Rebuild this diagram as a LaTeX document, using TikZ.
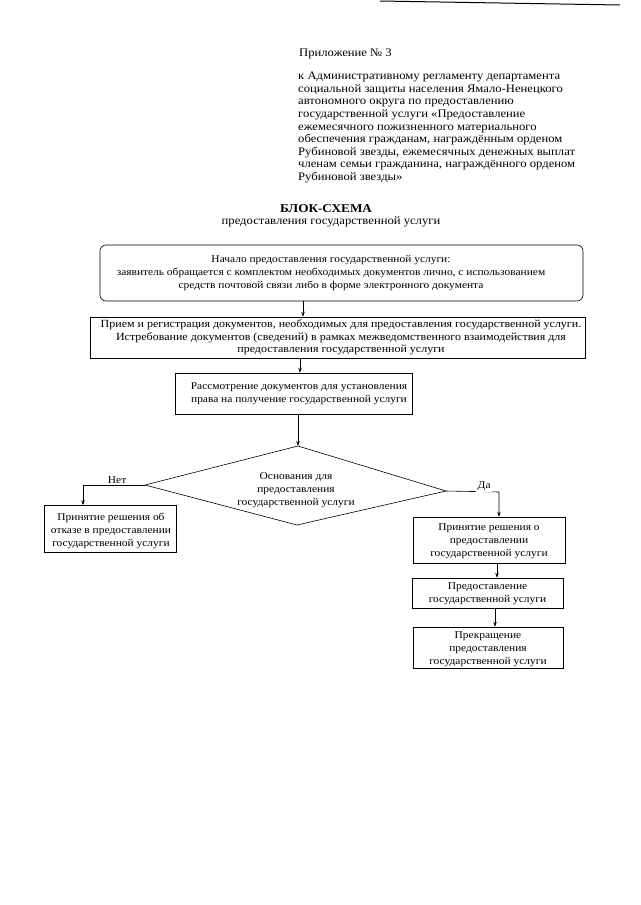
\documentclass[tikz,border=0pt]{standalone}
\usepackage{fontspec}
\setmainfont[FakeStretch=1.1]{Liberation Serif}
\usetikzlibrary{arrows.meta,calc}
\begin{document}
\begin{tikzpicture}[x=1pt,y=-1pt,
  box/.style={draw,line width=0.6pt,inner sep=0pt},
  txt/.style={align=center,inner sep=0pt,font=\fontsize{10.4}{13}\selectfont},
  arr/.style={line width=0.6pt,-{Stealth[length=5pt,width=3.5pt]}},
  lnk/.style={line width=0.6pt},
  lbl/.style={fill=white,inner sep=1.5pt,font=\fontsize{10.4}{11}\selectfont}]
\useasboundingbox (0,0) rectangle (640,905);
% scan edge
\draw[line width=1pt] (380,1) -- (620,5);
% header
\node[anchor=north west,inner sep=0pt,font=\fontsize{11.5}{12.5}\selectfont] (hdr) at (299,49) {Приложение № 3};
\node[anchor=north west,inner sep=0pt,align=left,font=\fontsize{11.5}{12.6}\selectfont] (par) at (298,72)
 {к Административному регламенту департамента\\
 социальной защиты населения Ямало-Ненецкого\\
 автономного округа по предоставлению\\
 государственной услуги «Предоставление\\
 ежемесячного пожизненного материального\\
 обеспечения гражданам, награждённым орденом\\
 Рубиновой звезды, ежемесячных денежных выплат\\
 членам семьи гражданина, награждённого орденом\\
 Рубиновой звезды»};
\node[inner sep=0pt,font=\fontsize{12}{13}\selectfont\bfseries] (title) at (326,209) {БЛОК-СХЕМА};
\node[inner sep=0pt,font=\fontsize{11.5}{13}\selectfont] (subtitle) at (331,222) {предоставления государственной услуги};
% box 1
\node[box,rounded corners=6pt,minimum width=483pt,minimum height=56pt] (b1) at (341.5,273) {};
\node[txt] (t1) at (331,273) {Начало предоставления государственной услуги:\\
 заявитель обращается с комплектом необходимых документов лично, с использованием\\
 средств почтовой связи либо в форме электронного документа};
% box 2
\node[box,minimum width=495pt,minimum height=41pt] (b2) at (337.5,337.5) {};
\node[txt,font=\fontsize{10.9}{12.5}\selectfont] (t2) at (341,337.5) {Прием и регистрация документов, необходимых для предоставления государственной услуги.\\
 Истребование документов (сведений) в рамках межведомственного взаимодействия для\\
 предоставления государственной услуги};
% box 3
\node[box,minimum width=237pt,minimum height=41pt] (b3) at (293.5,393.5) {};
\node[txt] (t3) at (299,393.5) {Рассмотрение документов для установления\\права на получение государственной услуги};
% diamond
\coordinate (dt) at (298,446);
\coordinate (dl) at (145,485);
\coordinate (dr) at (446,491);
\coordinate (db) at (297,525);
\draw[lnk] (dt) -- (dr) -- (db) -- (dl) -- cycle;
\node[txt] (dtext) at (296,490) {Основания для\\предоставления\\государственной услуги};
% box 4
\node[box,minimum width=132pt,minimum height=47pt] (b4) at (110,529) {};
\node[txt] (t4) at (111,531) {Принятие решения об\\отказе в предоставлении\\государственной услуги};
% box 5
\node[box,minimum width=152pt,minimum height=46pt] (b5) at (489,540) {};
\node[txt] (t5) at (489,541) {Принятие решения о\\предоставлении\\государственной услуги};
% box 6
\node[box,minimum width=151pt,minimum height=30pt] (b6) at (487.5,593) {};
\node[txt] (t6) at (487.5,594) {Предоставление\\государственной услуги};
% box 7
\node[box,minimum width=150pt,minimum height=41pt] (b7) at (488,647.5) {};
\node[txt] (t7) at (488,649) {Прекращение\\предоставления\\государственной услуги};
% arrow columns
\coordinate (x1) at (303,0);
\coordinate (x2) at (300,0);
\coordinate (x3) at (298,0);
\coordinate (x5) at (497,0);
\coordinate (x6) at (495,0);
\coordinate (nl) at (83,485);
\coordinate (yr) at (499,492);
% connectors
\draw[arr] (b1.south -| x1) -- (b2.north -| x1);
\draw[arr] (b2.south -| x2) -- (b3.north -| x2);
\draw[arr] (b3.south -| x3) -- (dt);
\draw[arr] (dl) -- node[lbl,pos=0.45,yshift=5pt] (no) {Нет} (nl) -- (b4.north -| nl);
\draw[arr] (dr) -- node[lbl,pos=0.72,yshift=6pt] (yes) {Да} (yr) -- (b5.north -| yr);
\draw[arr] (b5.south -| x5) -- (b6.north -| x5);
\draw[arr] (b6.south -| x6) -- (b7.north -| x6);
\end{tikzpicture}
\end{document}
